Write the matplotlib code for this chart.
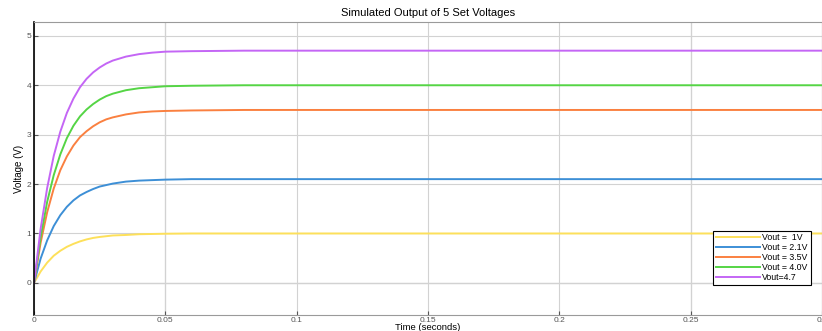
#step responses of the 5 set voltages

import numpy as np
import matplotlib.pyplot as plt

plt.rcParams['font.family'] = ['Liberation Sans', 'DejaVu Sans']

#time points (s)
t = [0, 0.0025, 0.005, 0.0075, 0.01, 0.0125, 0.015, 0.0175, 0.02, 0.0225,
     0.025, 0.0275, 0.03, 0.035, 0.04, 0.045, 0.05, 0.06, 0.08, 0.3]

#voltages at those times
v1 = [0, 0.23, 0.41, 0.55, 0.65, 0.73, 0.79, 0.84, 0.88, 0.91,
      0.93, 0.945, 0.96, 0.97, 0.985, 0.99, 0.995, 1.0, 1.0, 1.0]
v21 = [0, 0.49, 0.86, 1.15, 1.37, 1.54, 1.67, 1.77, 1.84, 1.90,
       1.95, 1.98, 2.01, 2.05, 2.07, 2.08, 2.09, 2.1, 2.1, 2.1]
v35 = [0, 0.81, 1.43, 1.91, 2.28, 2.56, 2.78, 2.95, 3.07, 3.17,
       3.25, 3.31, 3.35, 3.41, 3.45, 3.47, 3.48, 3.49, 3.5, 3.5]
v40 = [0, 0.92, 1.64, 2.18, 2.60, 2.93, 3.18, 3.37, 3.51, 3.62,
       3.71, 3.78, 3.83, 3.90, 3.94, 3.96, 3.98, 3.99, 4.0, 4.0]
v47 = [0, 1.09, 1.92, 2.57, 3.06, 3.44, 3.73, 3.96, 4.13, 4.26,
       4.36, 4.44, 4.50, 4.58, 4.63, 4.66, 4.68, 4.69, 4.7, 4.7]

labels = ['Vout =  1V', 'Vout = 2.1V', 'Vout = 3.5V', 'Vout = 4.0V', 'Vout=4.7']
colors = ['#fde05a', '#3d8fd6', '#fa8040', '#55d545', '#c466f5']

xticks = [0, 0.05, 0.1, 0.15, 0.2, 0.25, 0.3]
xticklabels = ['0', '0.05', '0.1', '0.15', '0.2', '0.25', '0.3']
yticks = [0, 1, 2, 3, 4, 5]

fig = plt.figure(figsize=(8.22, 3.31), dpi=100)
ax = fig.add_axes([0.0414, 0.0483, 0.9586, 0.8852])

for v, lab, c in zip([v1, v21, v35, v40, v47], labels, colors):
  ax.plot(t, v, color=c, lw=1.4, label=lab, solid_joinstyle='round')

ax.set_xlim(0, 0.3)
ax.set_ylim(-0.65, 5.28)
ax.set_xticks(xticks)
ax.set_xticklabels(xticklabels)
ax.set_yticks(yticks)
ax.grid(True, color='#d2d2d2', lw=0.8)
ax.set_axisbelow(True)
ax.axhline(0, color='#7a7a7a', lw=0.8, zorder=0.5)
for xv in [0.05, 0.25]:
  ax.axvline(xv, color='#a8a8a8', lw=0.8, zorder=0.5)

ax.tick_params(direction='in', length=3, labelsize=6, colors='#555555',
               labelcolor='#555555', pad=2)
ax.tick_params(axis='x', pad=1.5)
for s in ['top', 'right', 'bottom']:
  ax.spines[s].set_color('#9a9a9a')
  ax.spines[s].set_linewidth(0.8)
ax.spines['left'].set_color('black')
ax.spines['left'].set_linewidth(1.2)

ax.set_title('Simulated Output of 5 Set Voltages', fontsize=8, pad=4)
ax.set_xlabel('Time (seconds)', fontsize=6.8)
ax.xaxis.set_label_coords(0.5, -0.026)
ax.set_ylabel('Voltage (V)', fontsize=7, labelpad=2)

leg = ax.legend(loc='lower right', bbox_to_anchor=(0.991, 0.089), fontsize=6.3,
                handlelength=5, handletextpad=0.3, labelspacing=0.1,
                borderpad=0.3, fancybox=False, framealpha=1)
leg.get_frame().set_edgecolor('black')
leg.get_frame().set_linewidth(0.8)

plt.savefig('out.png', dpi=100)
